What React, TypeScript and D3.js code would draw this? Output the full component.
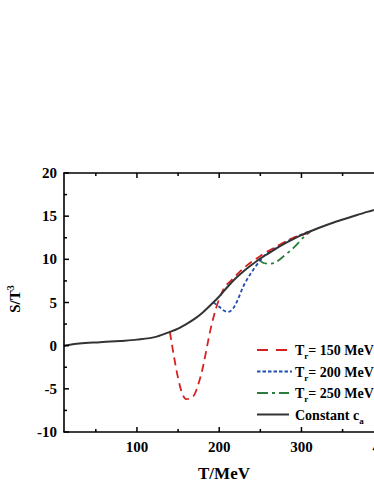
import React from "react";
import * as d3 from "d3";

const blackT = [11, 30, 55, 80, 100, 124, 140, 150, 160, 170, 180, 190, 200, 210, 220, 230, 240, 250, 260, 270, 280, 290, 300, 320, 340, 360, 380, 400, 420];
const blackS = [0, 0.25, 0.4, 0.55, 0.7, 1.05, 1.6, 1.98, 2.5, 3.1, 3.85, 4.75, 5.7, 6.8, 7.8, 8.65, 9.4, 10.1, 10.7, 11.3, 11.85, 12.35, 12.8, 13.6, 14.3, 14.9, 15.5, 16.0, 16.4];

const redT = [140, 160, 168, 177, 191, 197, 205, 215, 230, 250, 270, 290, 310];
const redS = [1.6, -6.2, -5.9, -3.7, 2.5, 4.6, 6.5, 7.6, 9.0, 10.4, 11.5, 12.5, 13.1];

const blueT = [193, 200, 205, 211, 216, 222, 230, 240, 250, 258, 270, 290, 310];
const blueS = [5.0, 4.5, 4.1, 3.9, 4.2, 5.2, 7.0, 8.6, 9.9, 10.7, 11.4, 12.45, 13.25];

const greenT = [249, 253, 262, 268, 275, 290, 304, 312];
const greenS = [10.0, 9.6, 9.5, 9.6, 10.1, 11.3, 12.7, 13.3];

const xMajor = [100, 200, 300, 400];
const xMinor = [50, 150, 250, 350];
const yMajor = [-10, -5, 0, 5, 10, 15, 20];
const yMinor = [-7.5, -2.5, 2.5, 7.5, 12.5, 17.5];

const legendItems = [
  { main: "T", sub: "r", rest: "= 150 MeV", color: "#d62020", dash: "11,8" },
  { main: "T", sub: "r", rest: "= 200 MeV", color: "#1f4fb0", dash: "3.5,2" },
  { main: "T", sub: "r", rest: "= 250 MeV", color: "#2a7d3e", dash: "11,4,3,4" },
  { main: "Constant c", sub: "a", rest: "", color: "#333333", dash: "" },
];

export default function App() {
  const W = 374, H = 484;
  const left = 64, top = 173, bottom = 432;
  const x = d3.scaleLinear().domain([11.3, 411.3]).range([left, left + 329]);
  const y = d3.scaleLinear().domain([-10, 20]).range([bottom, top]);
  const line = d3.line<[number, number]>().x(d => x(d[0])).y(d => y(d[1])).curve(d3.curveMonotoneX);
  const zip = (a: number[], b: number[]) => a.map((t, i) => [t, b[i]] as [number, number]);
  const lineC = d3.line<[number, number]>().x(d => x(d[0])).y(d => y(d[1])).curve(d3.curveCatmullRom.alpha(0.5));
  const font = "'Liberation Serif', 'Times New Roman', serif";
  const right = 460;
  return (
    <svg width={W} height={H} style={{ position: "absolute", left: 0, top: 0, background: "#fff" }}>
      <g fontFamily={font} fontWeight="bold" fill="#000">
        {/* curves */}
        <path d={lineC(zip(greenT, greenS)) || ""} fill="none" stroke="#2a7d3e" strokeWidth={1.8} strokeDasharray="9,4,3,4" />
        <path d={lineC(zip(blueT, blueS)) || ""} fill="none" stroke="#1f4fb0" strokeWidth={1.8} strokeDasharray="3.5,2.5" />
        <path d={line(zip(redT, redS)) || ""} fill="none" stroke="#d62020" strokeWidth={1.8} strokeDasharray="8,5" />
        <path d={line(zip(blackT, blackS)) || ""} fill="none" stroke="#333333" strokeWidth={2} />
        {/* frame */}
        <line x1={left} x2={left} y1={top} y2={bottom} stroke="#000" strokeWidth={1.6} />
        <line x1={left - 0.8} x2={right} y1={bottom} y2={bottom} stroke="#000" strokeWidth={1.6} />
        <line x1={left - 0.8} x2={right} y1={top} y2={top} stroke="#000" strokeWidth={1.6} />
        {xMajor.map(t => (
          <g key={"xm" + t}>
            <line x1={x(t)} x2={x(t)} y1={bottom} y2={bottom - 5} stroke="#000" strokeWidth={1.5} />
            <line x1={x(t)} x2={x(t)} y1={top} y2={top + 5} stroke="#000" strokeWidth={1.5} />
            <text x={x(t)} y={452} textAnchor="middle" fontSize={15}>{t}</text>
          </g>
        ))}
        {xMinor.map(t => (
          <g key={"xn" + t}>
            <line x1={x(t)} x2={x(t)} y1={bottom} y2={bottom - 3} stroke="#000" strokeWidth={1.5} />
            <line x1={x(t)} x2={x(t)} y1={top} y2={top + 3} stroke="#000" strokeWidth={1.5} />
          </g>
        ))}
        {yMajor.map(v => (
          <g key={"ym" + v}>
            <line x1={left} x2={left + 5} y1={y(v)} y2={y(v)} stroke="#000" strokeWidth={1.5} />
            <text x={57} y={y(v) + 5} textAnchor="end" fontSize={15}>{v}</text>
          </g>
        ))}
        {yMinor.map(v => (
          <line key={"yn" + v} x1={left} x2={left + 3} y1={y(v)} y2={y(v)} stroke="#000" strokeWidth={1.5} />
        ))}
        {/* axis titles */}
        <text x={224} y={479} textAnchor="middle" fontSize={17}>T/MeV</text>
        <text transform="translate(20,299) rotate(-90)" textAnchor="middle" fontSize={15}>
          S/T<tspan dy={-6} fontSize={10}>3</tspan>
        </text>
        {/* legend */}
        {legendItems.map((it, i) => {
          const ly = 350 + i * 21.5;
          return (
            <g key={"lg" + i}>
              <line x1={257} x2={i === 1 ? 292 : 289} y1={ly} y2={ly} stroke={it.color} strokeWidth={2} strokeDasharray={it.dash || undefined} />
              <text x={295} y={ly + 5} fontSize={14}>
                {it.main}
                <tspan dy={4} fontSize={9}>{it.sub}</tspan>
                <tspan dy={-4}>{it.rest}</tspan>
              </text>
            </g>
          );
        })}
      </g>
    </svg>
  );
}
